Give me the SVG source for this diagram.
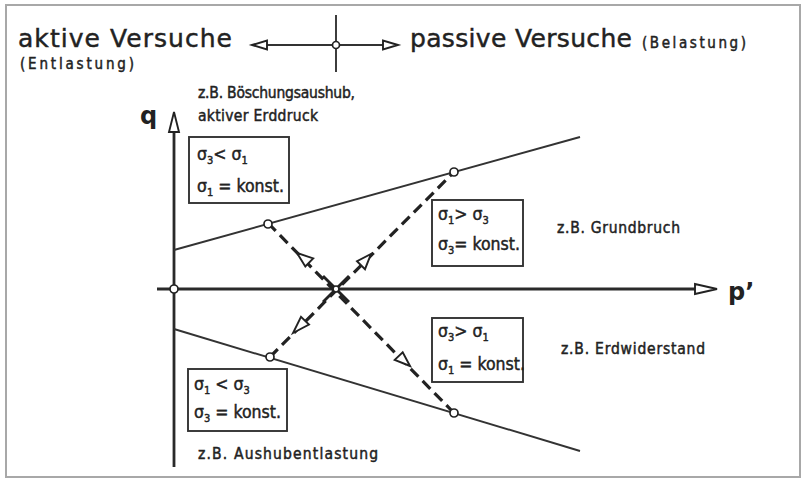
<svg xmlns="http://www.w3.org/2000/svg" width="806" height="481" viewBox="0 0 806 481">
<style>
.frame{fill:none;stroke:#a8a8a8;stroke-width:2}
.axis{fill:none;stroke:#2a2a2a;stroke-width:2.8}
.line{fill:none;stroke:#333;stroke-width:1.9}
.dash{fill:none;stroke:#222;stroke-width:3.2;stroke-dasharray:11 6}
.head{fill:#fff;stroke:#222;stroke-width:1.9;stroke-linejoin:miter}
.pt{fill:#fff;stroke:#222;stroke-width:1.7}
.box{fill:#fff;stroke:#333;stroke-width:1.9}
text{fill:#222;stroke:#222;stroke-width:0.45}
.big{font-family:"DejaVu Sans","Liberation Sans",sans-serif;font-size:25px}
.sm{font-family:"DejaVu Sans Condensed","DejaVu Sans",sans-serif;font-size:15px}
.lab{font-family:"DejaVu Sans Condensed","DejaVu Sans",sans-serif;font-size:15.5px}
.bx{font-family:"DejaVu Sans Condensed","DejaVu Sans",sans-serif;font-size:17.5px}
.sub{font-size:11px}
.ax{font-family:"DejaVu Sans","Liberation Sans",sans-serif;font-size:24px;font-weight:bold;stroke-width:0}
</style>
<rect class="frame" x="6" y="5" width="794" height="472"/>

<g id="legend">
  <text class="big" x="18" y="47" textLength="214" lengthAdjust="spacing">aktive Versuche</text>
  <text class="sm" x="20" y="69" textLength="114" lengthAdjust="spacing">(Entlastung)</text>
  <line class="line" x1="336" y1="15" x2="336" y2="72"/>
  <line class="line" x1="264" y1="45" x2="386" y2="45"/>
  <polygon class="head" points="252,45 267,40.5 267,49.5"/>
  <polygon class="head" points="398,45 383,40.5 383,49.5"/>
  <circle class="pt" cx="336" cy="45" r="3.5"/>
  <text class="big" x="410" y="47" textLength="222" lengthAdjust="spacing">passive Versuche</text>
  <text class="sm" x="642" y="48" textLength="104" lengthAdjust="spacing">(Belastung)</text>
</g>

<g id="connectors">
  <line class="axis" x1="174" y1="130" x2="174" y2="467"/>
  <polygon class="head" points="174,112 169,132 179,132"/>
  <line class="axis" x1="157" y1="289" x2="697" y2="289"/>
  <polygon class="head" points="717,289 695,284 695,294"/>
  <line class="line" x1="174" y1="250" x2="580" y2="137"/>
  <line class="line" x1="174" y1="329" x2="580" y2="451"/>
  <line class="dash" x1="268" y1="223" x2="454" y2="413"/>
  <line class="dash" x1="270" y1="357" x2="454" y2="172"/>
  <line stroke="#222" stroke-width="2.8" x1="323" y1="276" x2="349" y2="302"/>
  <line stroke="#222" stroke-width="2.8" x1="323" y1="302" x2="349" y2="276"/>
  <polygon class="head" points="297,253 313.2,258.4 305.3,266.5"/>
  <polygon class="head" points="371,254 365,269.2 357,261.2"/>
  <polygon class="head" points="293,333 309,324.6 301,316.8"/>
  <polygon class="head" points="410,366 394.7,359.9 402.7,352.3"/>
</g>

<g id="points">
  <circle class="pt" cx="174" cy="289" r="4"/>
  <circle class="pt" cx="336" cy="289" r="3"/>
  <circle class="pt" cx="268" cy="224" r="4"/>
  <circle class="pt" cx="454" cy="172" r="4"/>
  <circle class="pt" cx="270" cy="357" r="4"/>
  <circle class="pt" cx="454" cy="413" r="4"/>
</g>

<g id="axis-labels">
  <text class="ax" x="140" y="124">q</text>
  <text class="ax" x="728" y="300">p’</text>
</g>

<g id="note-aktiv">
  <text class="lab" x="198" y="98" textLength="157" lengthAdjust="spacing">z.B. Böschungsaushub,</text>
  <text class="lab" x="198" y="121" textLength="120" lengthAdjust="spacing">aktiver Erddruck</text>
</g>

<g id="box1">
  <rect class="box" x="189" y="137" width="100" height="66"/>
  <text class="bx" x="197" y="160">σ<tspan class="sub" dy="4">3</tspan><tspan dy="-4">&lt; σ</tspan><tspan class="sub" dy="4">1</tspan></text>
  <text class="bx" x="197" y="192">σ<tspan class="sub" dy="4">1</tspan><tspan dy="-4"> = konst.</tspan></text>
</g>

<g id="box2">
  <rect class="box" x="432" y="200" width="91" height="66"/>
  <text class="bx" x="438" y="220">σ<tspan class="sub" dy="4">1</tspan><tspan dy="-4">&gt; σ</tspan><tspan class="sub" dy="4">3</tspan></text>
  <text class="bx" x="438" y="250">σ<tspan class="sub" dy="4">3</tspan><tspan dy="-4">= konst.</tspan></text>
</g>

<g id="box3">
  <rect class="box" x="432" y="318" width="91" height="64"/>
  <text class="bx" x="438" y="337">σ<tspan class="sub" dy="4">3</tspan><tspan dy="-4">&gt; σ</tspan><tspan class="sub" dy="4">1</tspan></text>
  <text class="bx" x="438" y="370">σ<tspan class="sub" dy="4">1</tspan><tspan dy="-4"> = konst.</tspan></text>
</g>

<g id="box4">
  <rect class="box" x="188" y="369" width="99" height="62"/>
  <text class="bx" x="194" y="390">σ<tspan class="sub" dy="4">1</tspan><tspan dy="-4"> &lt; σ</tspan><tspan class="sub" dy="4">3</tspan></text>
  <text class="bx" x="194" y="418">σ<tspan class="sub" dy="4">3</tspan><tspan dy="-4"> = konst.</tspan></text>
</g>

<g id="note-grundbruch">
  <text class="lab" x="557" y="233" textLength="123" lengthAdjust="spacing">z.B. Grundbruch</text>
</g>
<g id="note-erdwiderstand">
  <text class="lab" x="561" y="354" textLength="144" lengthAdjust="spacing">z.B. Erdwiderstand</text>
</g>
<g id="note-aushub">
  <text class="lab" x="198" y="459" textLength="180" lengthAdjust="spacing">z.B.  Aushubentlastung</text>
</g>
</svg>
